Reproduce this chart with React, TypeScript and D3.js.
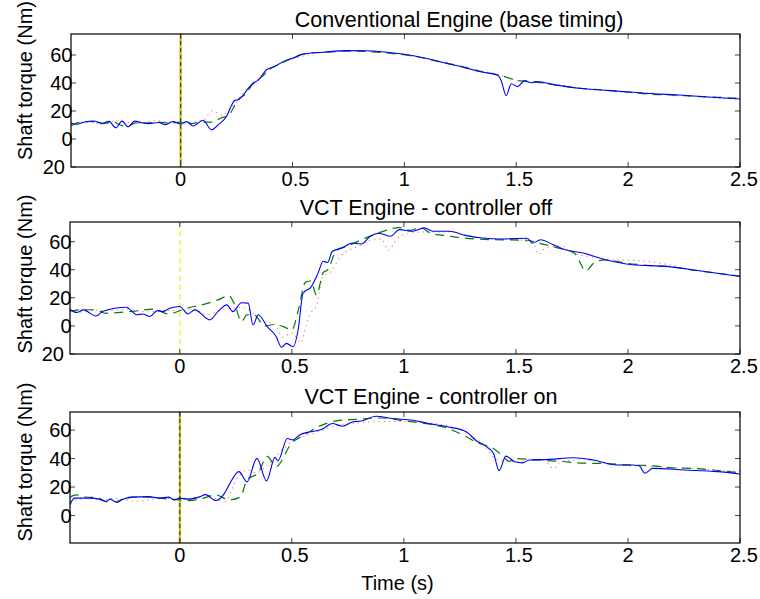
import * as d3 from "d3";

// time (s), torque (Nm) samples
type Pt = [number, number];

const xTicks = [0, 0.5, 1, 1.5, 2, 2.5];
const xTickLabels = ["0", "0.5", "1", "1.5", "2", "2.5"];
const yTicks = [-20, 0, 20, 40, 60];
const yTickLabels = ["20", "0", "20", "40", "60"];

const titles = [
  "Conventional Engine (base timing)",
  "VCT Engine - controller off",
  "VCT Engine - controller on",
];

// panel 1 - conventional engine
const convBlue: Pt[] = [
  [-0.49, 11.4], [-0.465, 10.5], [-0.43, 12.2], [-0.39, 12.9], [-0.35, 11.2], [-0.32, 12.6],
  [-0.29, 8.0], [-0.262, 12.8], [-0.235, 8.8], [-0.205, 12.8], [-0.17, 11.4], [-0.14, 11.0],
  [-0.1, 11.8], [-0.07, 10.2], [-0.035, 12.4], [0, 10.7], [0.027, 12.4], [0.056, 9.3],
  [0.1, 13.4], [0.138, 6.6], [0.17, 10.5], [0.205, 16], [0.228, 24.3], [0.242, 27.6],
  [0.257, 28], [0.28, 31.4], [0.302, 36.2], [0.324, 39.8], [0.347, 42], [0.384, 49.5],
  [0.42, 51.8], [0.458, 55.2], [0.503, 57.8], [0.547, 60.5], [0.637, 62], [0.756, 63.1],
  [0.83, 63.0], [0.9, 62.3], [1.0, 60.5], [1.1, 57.5], [1.19, 54], [1.27, 51], [1.34, 48],
  [1.417, 45.5], [1.432, 42], [1.455, 31], [1.478, 39.5], [1.506, 37.4], [1.537, 41.7],
  [1.567, 40.2], [1.589, 41], [1.68, 38.5], [1.78, 36.2], [1.88, 35], [1.99, 33.8],
  [2.1, 32.5], [2.23, 31.4], [2.36, 30], [2.5, 28.6],
];
const convGreen: Pt[] = [
  [-0.49, 9.5], [-0.45, 12], [-0.4, 12.5], [-0.35, 11], [-0.3, 12], [-0.27, 10], [-0.24, 9],
  [-0.2, 11.5], [-0.15, 11.5], [-0.1, 12], [-0.05, 11.5], [0, 12], [0.05, 11], [0.09, 12],
  [0.14, 12], [0.18, 15], [0.215, 17], [0.235, 22], [0.255, 28], [0.29, 32], [0.325, 40],
  [0.36, 44], [0.4, 50], [0.45, 54], [0.5, 58], [0.55, 60.8], [0.65, 62], [0.75, 62.8],
  [0.85, 62.3], [0.95, 61], [1.05, 59], [1.15, 55.5], [1.25, 52], [1.35, 48], [1.43, 45.5],
  [1.5, 42], [1.6, 40.5], [1.7, 38], [1.8, 36], [1.9, 34.8], [2.0, 33.5], [2.1, 32],
  [2.2, 31.5], [2.3, 30.5], [2.4, 29.8], [2.5, 29],
];
const convRed: Pt[] = [
  [-0.49, 11], [-0.42, 12], [-0.35, 11], [-0.28, 13], [-0.2, 11], [-0.12, 13], [-0.05, 12],
  [0, 11], [0.05, 12], [0.1, 13], [0.14, 20], [0.16, 19], [0.19, 17], [0.22, 22], [0.25, 26],
  [0.28, 33], [0.32, 38], [0.36, 45], [0.42, 52], [0.5, 57], [0.6, 61], [0.7, 62.5],
  [0.8, 63], [0.9, 62.5], [1.0, 60], [1.1, 57.5], [1.2, 54], [1.3, 50], [1.42, 46],
  [1.5, 42], [1.6, 40], [1.7, 38.5], [1.8, 36], [1.9, 35], [2.0, 33], [2.1, 33], [2.2, 31],
  [2.3, 30.5], [2.4, 29], [2.5, 28.5],
];

// panel 2 - VCT, controller off
const offBlue: Pt[] = [
  [-0.49, 11.9], [-0.46, 9.5], [-0.43, 11.4], [-0.375, 7.1], [-0.345, 10.2], [-0.29, 12.6],
  [-0.24, 13.3], [-0.19, 7.9], [-0.165, 8.5], [-0.134, 6.7], [-0.1, 10.9], [-0.075, 10.2],
  [-0.045, 12.6], [0, 13.8], [0.036, 8.6], [0.067, 11.4], [0.134, 4.3], [0.17, 10.2],
  [0.21, 15], [0.237, 10.2], [0.275, 16.5], [0.305, 16.2], [0.327, 0.7], [0.35, 7.9],
  [0.39, -0.5], [0.43, -7.6], [0.454, -15.2], [0.476, -12.4], [0.506, -14.8], [0.528, -2.9],
  [0.55, 23.3], [0.587, 28], [0.617, 37.6], [0.64, 46], [0.66, 45.2], [0.68, 53],
  [0.725, 55.5], [0.77, 59], [0.81, 58.3], [0.85, 63.8], [0.89, 66], [0.94, 63.8],
  [0.98, 68.6], [1.04, 67.4], [1.09, 69.8], [1.13, 67.4], [1.2, 67.4], [1.28, 64.3],
  [1.35, 62.6], [1.43, 61.9], [1.55, 62.4], [1.575, 59], [1.61, 61.4], [1.665, 57.9],
  [1.72, 54.3], [1.8, 51.9], [1.9, 47.1], [2.02, 43.6], [2.17, 42.4], [2.32, 39.3], [2.5, 35.2],
];
const offGreen: Pt[] = [
  [-0.49, 10.5], [-0.44, 11.5], [-0.38, 11.5], [-0.33, 9], [-0.28, 9.5], [-0.2, 10.5],
  [-0.12, 12], [-0.05, 8.5], [0.03, 12.6], [0.1, 15], [0.17, 18.5], [0.22, 21.5], [0.25, 13],
  [0.275, 3], [0.3, 7.9], [0.33, 8], [0.38, 0], [0.42, 1], [0.47, -1], [0.5, -3], [0.53, 12],
  [0.56, 31], [0.585, 32], [0.61, 22], [0.64, 38], [0.66, 40], [0.7, 54], [0.75, 57],
  [0.82, 62], [0.9, 67], [0.98, 70], [1.03, 68], [1.07, 70], [1.12, 66], [1.2, 64],
  [1.27, 62.5], [1.4, 61.4], [1.55, 61], [1.6, 59], [1.7, 55], [1.76, 52], [1.79, 44],
  [1.81, 39], [1.85, 45], [1.9, 47], [2.0, 44.5], [2.1, 43], [2.2, 42], [2.3, 39.5],
  [2.4, 37.5], [2.5, 35.5],
];
const offRed: Pt[] = [
  [-0.49, 11], [-0.44, 10], [-0.38, 11], [-0.3, 11], [-0.22, 12], [-0.15, 10], [-0.08, 11],
  [0, 11], [0.06, 12], [0.12, 8], [0.2, 12], [0.28, 13], [0.32, 10], [0.36, 3], [0.42, 2],
  [0.46, -8], [0.5, -5], [0.54, -12], [0.56, -2], [0.58, 8], [0.61, 14], [0.64, 36],
  [0.67, 38], [0.72, 50], [0.8, 57], [0.85, 61], [0.9, 62], [0.93, 54], [0.97, 62],
  [1.02, 66], [1.1, 67], [1.2, 67], [1.3, 64], [1.4, 62], [1.5, 61.5], [1.58, 58], [1.6, 51],
  [1.63, 55], [1.7, 57], [1.75, 52], [1.85, 49], [1.95, 47], [2.05, 46.5], [2.2, 43],
  [2.3, 39.5], [2.4, 37.5], [2.5, 35],
];

// panel 3 - VCT, controller on
const onBlue: Pt[] = [
  [-0.49, 7.5], [-0.47, 12.2], [-0.4, 12.2], [-0.36, 11.5], [-0.33, 9.8], [-0.31, 11.5],
  [-0.28, 9.1], [-0.26, 11], [-0.21, 12.9], [-0.14, 13.3], [-0.09, 12.2], [-0.05, 12.9],
  [-0.025, 11], [0, 12.2], [0.04, 11.5], [0.085, 12.9], [0.116, 14.7], [0.16, 10.5],
  [0.2, 15.7], [0.22, 21.5], [0.264, 30.8], [0.3, 23.6], [0.344, 40.1], [0.387, 24.3],
  [0.425, 40.8], [0.438, 38.5], [0.48, 54.1], [0.505, 53], [0.533, 56.4], [0.577, 58.7],
  [0.62, 59.9], [0.64, 61], [0.68, 64.6], [0.727, 62.7], [0.77, 65.7], [0.81, 66.4],
  [0.876, 69.7], [0.95, 68.1], [1.04, 66.9], [1.11, 64.6], [1.2, 62.2], [1.28, 58.7],
  [1.32, 52.9], [1.37, 48.2], [1.4, 43.6], [1.425, 31.5], [1.455, 41.7], [1.495, 37.8],
  [1.53, 37], [1.56, 39], [1.65, 39.4], [1.755, 40.6], [1.845, 39], [1.95, 35.5],
  [2.02, 35.5], [2.05, 35], [2.075, 29.7], [2.11, 33.1], [2.25, 32], [2.4, 30.8], [2.5, 29.2],
];
const onGreen: Pt[] = [
  [-0.49, 13], [-0.46, 14.5], [-0.42, 13], [-0.37, 12.5], [-0.32, 9.5], [-0.28, 10],
  [-0.22, 13], [-0.16, 13], [-0.08, 12], [0, 11], [0.04, 10.5], [0.1, 12], [0.16, 14.5],
  [0.22, 11], [0.27, 13], [0.3, 25], [0.35, 30], [0.39, 41.5], [0.43, 34.5], [0.5, 51],
  [0.55, 56], [0.62, 62.5], [0.7, 66.5], [0.78, 67.5], [0.9, 68.5], [1.0, 66.5], [1.1, 64.5],
  [1.2, 61], [1.27, 56], [1.33, 51], [1.4, 47], [1.44, 42], [1.47, 38], [1.5, 40], [1.6, 39],
  [1.7, 38], [1.8, 36.8], [1.9, 36.5], [2.0, 35.5], [2.1, 35], [2.2, 33.5], [2.3, 33],
  [2.4, 31.6], [2.5, 30],
];
const onRed: Pt[] = [
  [-0.49, 10], [-0.42, 12], [-0.35, 11], [-0.28, 12], [-0.2, 10], [-0.12, 11.5], [-0.05, 12],
  [0, 11], [0.08, 13], [0.15, 12], [0.2, 10], [0.26, 27], [0.3, 32], [0.34, 30], [0.4, 37],
  [0.45, 45], [0.5, 52], [0.6, 58], [0.7, 63], [0.8, 65], [0.9, 66], [1.0, 66], [1.1, 65],
  [1.2, 63], [1.3, 56], [1.36, 49], [1.4, 41], [1.45, 38], [1.55, 38.5], [1.62, 39],
  [1.67, 33], [1.7, 38], [1.8, 39], [1.9, 37], [2.0, 35], [2.1, 34.5], [2.2, 33.5],
  [2.3, 33], [2.4, 32], [2.5, 31],
];

const xDomain: [number, number] = [-0.49, 2.5];

const panels = [
  {
    title: titles[0], titleX: 459, titleY: 26.5, labelY: 80.5,
    box: { left: 71, top: 34, right: 740, bottom: 167 },
    yDomain: [-20, 75] as [number, number],
    zeroSolid: true,
    series: [convRed, convGreen, convBlue],
  },
  {
    title: titles[1], titleX: 426, titleY: 214.5, labelY: 274,
    box: { left: 70, top: 222, right: 740, bottom: 354 },
    yDomain: [-20, 74] as [number, number],
    zeroSolid: false,
    series: [offRed, offGreen, offBlue],
  },
  {
    title: titles[2], titleX: 431, titleY: 404, labelY: 462,
    box: { left: 70, top: 412, right: 740, bottom: 543 },
    yDomain: [-19.3, 72.7] as [number, number],
    zeroSolid: true,
    series: [onRed, onGreen, onBlue],
  },
];

const seriesStyle = [
  { stroke: "#ff4d4d", width: 1.1, dash: "1.2,4", opacity: 0.8 },
  { stroke: "#008000", width: 1.2, dash: "9,6", opacity: 1 },
  { stroke: "#0000ff", width: 1.1, dash: "none", opacity: 1 },
];

const FONT = "'Liberation Sans', Arial, Helvetica, sans-serif";

function Panel({ p, idx }: { p: (typeof panels)[number]; idx: number }) {
  const { left, top, right, bottom } = p.box;
  const x = d3.scaleLinear().domain(xDomain).range([left, right]);
  const y = d3.scaleLinear().domain(p.yDomain).range([bottom, top]);
  const line = d3
    .line<Pt>()
    .x((d) => x(d[0]))
    .y((d) => y(d[1]))
    .curve(d3.curveMonotoneX);
  const clipId = `clip-${idx}`;
  const tl = 5;
  const visY = yTicks.filter((v) => v >= p.yDomain[0] - 0.01 && v <= p.yDomain[1]);

  return (
    <g>
      <defs>
        <clipPath id={clipId}>
          <rect x={left} y={top} width={right - left} height={bottom - top} />
        </clipPath>
      </defs>
      <g clipPath={`url(#${clipId})`}>
        {p.zeroSolid ? (
          <>
            <line x1={x(0)} x2={x(0)} y1={top} y2={bottom} stroke="#c9c400" strokeWidth={2.2} />
            <line x1={x(0)} x2={x(0)} y1={top} y2={bottom} stroke="#3a3a3a" strokeWidth={1.1} strokeDasharray="4,3" />
          </>
        ) : (
          <line x1={x(0)} x2={x(0)} y1={top} y2={bottom} stroke="#f2f200" strokeWidth={1.2} strokeDasharray="5,4" />
        )}
        {p.series.map((s, i) => (
          <path
            key={i}
            d={line(s) ?? ""}
            fill="none"
            stroke={seriesStyle[i].stroke}
            strokeWidth={seriesStyle[i].width}
            strokeDasharray={seriesStyle[i].dash}
            opacity={seriesStyle[i].opacity}
          />
        ))}
      </g>
      {xTicks.map((t) => (
        <g key={`xt${t}`}>
          <line x1={x(t)} x2={x(t)} y1={bottom} y2={bottom - tl} stroke="#444" />
          <line x1={x(t)} x2={x(t)} y1={top} y2={top + tl} stroke="#444" />
        </g>
      ))}
      {visY.map((v) => (
        <g key={`yt${v}`}>
          <line x1={left} x2={left + tl} y1={y(v)} y2={y(v)} stroke="#444" />
          <line x1={right} x2={right - tl} y1={y(v)} y2={y(v)} stroke="#444" />
        </g>
      ))}
      <rect x={left} y={top} width={right - left} height={bottom - top} fill="none" stroke="#000" strokeWidth={1.2} />
      {xTicks.map((t, i) => {
        const lab = xTickLabels[i];
        const last = i === xTicks.length - 1;
        const dx = lab.includes(".") ? 3 : 0;
        return (
          <text
            key={`xl${t}`}
            x={last ? x(t) - 10 : x(t) + dx}
            y={bottom + 18.5}
            textAnchor={last ? "start" : "middle"}
            fontSize={20}
            fontFamily={FONT}
          >
            {lab}
          </text>
        );
      })}
      {visY.map((v) => {
        const lab = yTickLabels[yTicks.indexOf(v)];
        return (
          <text
            key={`yl${v}`}
            x={v < 0 ? left - 6 : left + 1.5}
            y={y(v)}
            dy="0.36em"
            textAnchor="end"
            fontSize={20}
            fontFamily={FONT}
          >
            {lab}
          </text>
        );
      })}
      <text x={p.titleX} y={p.titleY} textAnchor="middle" fontSize={21.5} fontFamily={FONT}>
        {p.title}
      </text>
      <text
        transform={`translate(32,${p.labelY}) rotate(-90)`}
        textAnchor="middle"
        fontSize={20}
        fontFamily={FONT}
      >
        Shaft torque (Nm)
      </text>
    </g>
  );
}

export default function App() {
  return (
    <svg
      width={760}
      height={599}
      style={{ position: "absolute", left: 0, top: 0, background: "#fff" }}
    >
      <rect width={760} height={599} fill="#fff" />
      {panels.map((p, i) => (
        <Panel key={i} p={p} idx={i} />
      ))}
      <text x={397.5} y={590} textAnchor="middle" fontSize={20} fontFamily={FONT}>
        Time (s)
      </text>
    </svg>
  );
}
